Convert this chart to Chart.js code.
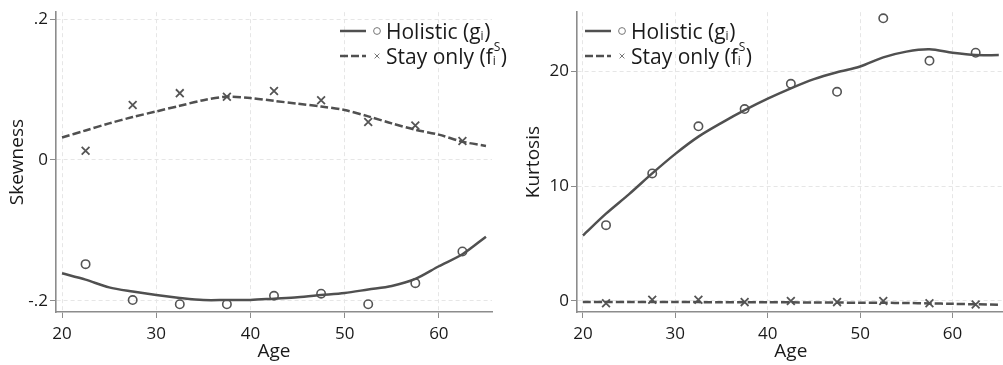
<!DOCTYPE html>
<html>
<head>
<meta charset="utf-8">
<script src="https://cdn.jsdelivr.net/npm/chart.js@4.4.1/dist/chart.umd.min.js"></script>
<style>
  html, body { margin: 0; padding: 0; background: #fff; overflow: hidden; }
  body { width: 1003px; height: 365px; position: relative; }
  canvas { position: absolute; top: 0; }
  #skewChart { left: 0; }
  #kurtChart { left: 500px; }
</style>
</head>
<body>
<canvas id="skewChart" width="510" height="365"></canvas>
<canvas id="kurtChart" width="512" height="365"></canvas>
<script>
// Age groups for the markers, and ages where the smoothed lines were read
const pointAges = [22.5, 27.5, 32.5, 37.5, 42.5, 47.5, 52.5, 57.5, 62.5];
const lineAges = [20, 22.5, 25, 27.5, 30, 32.5, 35, 37.5, 40, 42.5, 45, 47.5, 50, 52.5, 55, 57.5, 60, 62.5, 65];

// Skewness
const skewHolisticPts = [-0.148, -0.199, -0.205, -0.205, -0.193, -0.190, -0.205, -0.175, -0.130];
const skewHolisticLine = [-0.161, -0.170, -0.181, -0.187, -0.192, -0.196, -0.199, -0.199, -0.199, -0.197, -0.195, -0.192, -0.189, -0.184, -0.179, -0.169, -0.151, -0.134, -0.109];
const skewStayPts = [0.013, 0.078, 0.095, 0.090, 0.098, 0.085, 0.054, 0.049, 0.027];
const skewStayLine = [0.032, 0.042, 0.052, 0.061, 0.069, 0.077, 0.085, 0.090, 0.088, 0.084, 0.080, 0.076, 0.071, 0.062, 0.052, 0.043, 0.036, 0.026, 0.020];

// Kurtosis
const kurtHolisticPts = [6.6, 11.1, 15.2, 16.7, 18.9, 18.2, 24.6, 20.9, 21.6];
const kurtHolisticLine = [5.7, 7.6, 9.3, 11.1, 12.8, 14.3, 15.5, 16.6, 17.6, 18.5, 19.3, 19.9, 20.4, 21.2, 21.7, 21.9, 21.6, 21.4, 21.4];
const kurtStayPts = [-0.2, 0.1, 0.1, -0.1, 0, -0.1, 0, -0.2, -0.3];
const kurtStayLine = [-0.1, -0.1, -0.1, -0.1, -0.1, -0.1, -0.12, -0.12, -0.12, -0.12, -0.13, -0.14, -0.15, -0.16, -0.18, -0.21, -0.25, -0.29, -0.33];

// Tick labels
const ageTicks = [20, 30, 40, 50, 60];
const skewTicks = [-0.2, 0, 0.2];
const skewTickLabels = ['-.2', '0', '.2'];
const kurtTicks = [0, 10, 20];

const legendRows = [
    { text: 'Holistic (g', sub: 'i', sup: '', dash: [], marker: 'circle' },
    { text: 'Stay only (f', sub: 'i', sup: 'S', dash: [8, 3], marker: 'crossRot' }
];

const lineColor = '#505050';
const markColor = '#555555';
const axisColor = '#8c8c8c';
const gridColor = '#e6e6e6';
const textColor = '#1a1a1a';
const fontFamily = '"Open Sans", "DejaVu Sans", sans-serif';

function toXY(xs, ys) {
    return xs.map((x, i) => ({ x: x, y: ys[i] }));
}

// Stata style legend: line sample, marker, label with sub/superscript
const stataLegend = {
    id: 'stataLegend',
    afterDraw(chart, args, opts) {
        const ctx = chart.ctx;
        ctx.save();
        legendRows.forEach((row, i) => {
            const y = opts.top + i * opts.gap;
            ctx.strokeStyle = lineColor;
            ctx.lineWidth = 2.5;
            ctx.setLineDash(row.dash);
            ctx.beginPath();
            ctx.moveTo(opts.left, y);
            ctx.lineTo(opts.left + 26, y);
            ctx.stroke();
            ctx.setLineDash([]);

            ctx.strokeStyle = '#777';
            ctx.fillStyle = '#fff';
            ctx.lineWidth = 1;
            Chart.helpers.drawPoint(ctx, { pointStyle: row.marker, radius: 3.4, borderWidth: 1 }, opts.left + 37, y);

            ctx.fillStyle = textColor;
            ctx.textBaseline = 'alphabetic';
            ctx.textAlign = 'left';
            const base = y + 8;
            let tx = opts.left + 46;
            ctx.font = '21px ' + fontFamily;
            ctx.fillText(row.text, tx, base);
            tx += ctx.measureText(row.text).width;
            ctx.font = '12px ' + fontFamily;
            ctx.fillText(row.sub, tx, base + 1);
            let w = ctx.measureText(row.sub).width;
            if (row.sup) {
                ctx.fillText(row.sup, tx + 1, base - 13);
                w = Math.max(w, ctx.measureText(row.sup).width + 1);
            }
            tx += w + 0.5;
            ctx.font = '21px ' + fontFamily;
            ctx.fillText(')', tx, base);
        });
        ctx.restore();
    }
};

function makeChart(id, c) {
    const ctx = document.getElementById(id).getContext('2d');
    return new Chart(ctx, {
        data: {
            datasets: [
                {
                    type: 'line', data: toXY(lineAges, c.holisticLine),
                    borderColor: lineColor, borderWidth: 2.5, pointRadius: 0, tension: 0.3, fill: false
                },
                {
                    type: 'line', data: toXY(lineAges, c.stayLine),
                    borderColor: lineColor, borderWidth: 2.5, borderDash: [8, 3], pointRadius: 0, tension: 0.3, fill: false
                },
                {
                    type: 'scatter', data: toXY(pointAges, c.holisticPts),
                    pointStyle: 'circle', pointRadius: 4.2, borderWidth: 1.6,
                    borderColor: markColor, backgroundColor: 'rgba(0,0,0,0)'
                },
                {
                    type: 'scatter', data: toXY(pointAges, c.stayPts),
                    pointStyle: 'crossRot', pointRadius: 5.5, borderWidth: 1.8,
                    borderColor: markColor, backgroundColor: 'rgba(0,0,0,0)'
                }
            ]
        },
        options: {
            responsive: false,
            animation: false,
            devicePixelRatio: 1,
            layout: { padding: { top: 12, right: c.padRight, bottom: 0, left: 0 } },
            plugins: {
                legend: { display: false },
                tooltip: { enabled: false },
                stataLegend: c.legend
            },
            scales: {
                x: {
                    type: 'linear', min: 19.36, max: 65.64,
                    afterBuildTicks: s => { s.ticks = ageTicks.map(v => ({ value: v })); },
                    afterFit: s => { s.height = 53; },
                    border: { display: true, color: axisColor, width: 1.6, dash: [4, 3] },
                    grid: { color: gridColor, lineWidth: 1, drawTicks: true, tickLength: 6, tickColor: axisColor, tickWidth: 1, tickBorderDash: [] },
                    ticks: { color: textColor, font: { family: fontFamily, size: 17 }, padding: 6, maxRotation: 0 },
                    title: { display: true, text: 'Age', color: textColor, font: { family: fontFamily, size: 19, lineHeight: 1.2 }, padding: { top: 0, bottom: 2 } }
                },
                y: {
                    type: 'linear', min: c.yMin, max: c.yMax,
                    afterBuildTicks: s => { s.ticks = c.yTicks.map(v => ({ value: v })); },
                    afterFit: s => { s.width = c.yWidth; },
                    border: { display: true, color: axisColor, width: 1.6, dash: [4, 3] },
                    grid: { color: gridColor, lineWidth: 1, drawTicks: true, tickLength: 6, tickColor: axisColor, tickWidth: 1, tickBorderDash: [] },
                    ticks: { color: textColor, font: { family: fontFamily, size: 17 }, padding: 2, callback: c.tickLabel },
                    title: { display: true, text: c.yTitle, color: textColor, font: { family: fontFamily, size: 19, lineHeight: 1.2 }, padding: { top: c.titlePad, bottom: 0 } }
                }
            }
        },
        plugins: [stataLegend]
    });
}

makeChart('skewChart', {
    holisticPts: skewHolisticPts, holisticLine: skewHolisticLine,
    stayPts: skewStayPts, stayLine: skewStayLine,
    yMin: -0.216, yMax: 0.21, yTicks: skewTicks,
    tickLabel: v => skewTickLabels[skewTicks.findIndex(t => Math.abs(t - v) < 1e-9)],
    yTitle: 'Skewness', yWidth: 56, titlePad: 6, padRight: 18,
    legend: { left: 340, top: 31, gap: 25 }
});

makeChart('kurtChart', {
    holisticPts: kurtHolisticPts, holisticLine: kurtHolisticLine,
    stayPts: kurtStayPts, stayLine: kurtStayLine,
    yMin: -0.96, yMax: 25.13, yTicks: kurtTicks,
    tickLabel: v => String(v),
    yTitle: 'Kurtosis', yWidth: 77, titlePad: 22, padRight: 3,
    legend: { left: 85, top: 31, gap: 25 }
});
</script>
</body>
</html>
